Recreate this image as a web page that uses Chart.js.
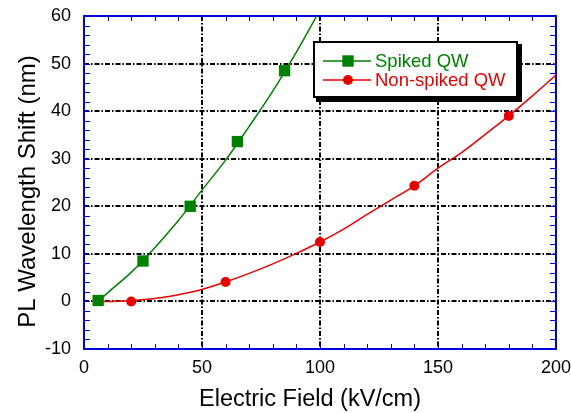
<!DOCTYPE html>
<html>
<head>
<meta charset="utf-8">
<script src="https://cdn.jsdelivr.net/npm/chart.js@4/dist/chart.umd.min.js"></script>
<style>
  html, body { margin: 0; padding: 0; background: #fff; }
  #wrap { width: 571px; height: 413px; }
</style>
</head>
<body>
<div id="wrap"><canvas id="c" width="571" height="413"></canvas></div>
<script>
// Measured PL shifts (markers)
const spikedField = [6, 25, 45, 65, 85];
const spikedShift = [0.2, 8.5, 20.0, 33.6, 48.5];
const nonSpikedField = [20, 60, 100, 140, 180];
const nonSpikedShift = [0.0, 4.1, 12.5, 24.3, 39.0];

// Fitted curves through each series
const spikedFitField = [6, 10, 20, 30, 40, 50, 60, 70, 80, 90, 98.6];
const spikedFitShift = [0, 1.8, 6.1, 11.3, 17.0, 23.4, 29.7, 36.8, 44.2, 52.4, 60];
const nonSpikedFitField = [6, 10, 20, 30, 40, 50, 60, 70, 80, 90, 100, 110, 120, 130, 140, 150, 160, 170, 180, 190, 200];
const nonSpikedFitShift = [0, 0, 0.2, 0.6, 1.4, 2.5, 4.1, 5.9, 7.9, 10.1, 12.5, 15.2, 18.3, 21.3, 24.3, 28.0, 31.3, 35.1, 39.0, 43.2, 47.6];

// Axis ranges, tick steps and titles
const xTicks = [0, 50, 100, 150, 200];
const yTicks = [-10, 0, 10, 20, 30, 40, 50, 60];
const xTitle = 'Electric Field (kV/cm)';
const yTitle = 'PL Wavelength Shift (nm)';

const GREEN = '#008000';
const RED = '#e60000';
const FRAME = '#0000d8';
const FONT = '"Liberation Sans", Arial, sans-serif';

const pts = (xs, ys) => xs.map((x, i) => ({ x, y: ys[i] }));

// Blue frame with inward minor ticks on all four sides
const framePlugin = {
  id: 'frame',
  beforeDatasetsDraw(chart) {
    const { ctx, chartArea: a, scales: { x, y } } = chart;
    ctx.save();
    ctx.strokeStyle = FRAME;
    ctx.lineWidth = 1;
    ctx.beginPath();
    for (let v = xTicks[0]; v <= xTicks[xTicks.length - 1]; v += 10) {
      const px = Math.round(x.getPixelForValue(v)) + 0.5;
      ctx.moveTo(px, a.bottom); ctx.lineTo(px, a.bottom - 5);
      ctx.moveTo(px, a.top); ctx.lineTo(px, a.top + 5);
    }
    for (let v = yTicks[0]; v <= yTicks[yTicks.length - 1]; v += 2) {
      const py = Math.round(y.getPixelForValue(v)) + 0.5;
      ctx.moveTo(a.left, py); ctx.lineTo(a.left + 6, py);
      ctx.moveTo(a.right, py); ctx.lineTo(a.right - 6, py);
    }
    ctx.stroke();
    ctx.lineWidth = 2;
    ctx.strokeRect(a.left, a.top, a.right - a.left, a.bottom - a.top);
    ctx.restore();
  }
};

// Axis titles, placed beside the plot area
const titlePlugin = {
  id: 'axisTitles',
  afterDraw(chart) {
    const { ctx, chartArea: a } = chart;
    ctx.save();
    ctx.fillStyle = '#000';
    ctx.textAlign = 'center';
    ctx.textBaseline = 'alphabetic';
    ctx.font = '23.5px ' + FONT;
    ctx.fillText(xTitle, (a.left + a.right) / 2 - 10, 406);
    ctx.translate(35, (a.top + a.bottom) / 2 + 9);
    ctx.rotate(-Math.PI / 2);
    ctx.font = '24px ' + FONT;
    ctx.fillText(yTitle, 0, 0);
    ctx.restore();
  }
};

// Boxed legend with drop shadow inside the plot
const legendPlugin = {
  id: 'boxLegend',
  afterDraw(chart) {
    const { ctx } = chart;
    const bx = 314, by = 42, bw = 203, bh = 55;
    ctx.save();
    ctx.fillStyle = '#000';
    ctx.fillRect(bx + 2, by + 2, bw + 3, bh + 3);
    ctx.fillStyle = '#fff';
    ctx.fillRect(bx, by, bw, bh);
    ctx.lineWidth = 2;
    ctx.strokeStyle = '#000';
    ctx.strokeRect(bx, by, bw, bh);

    const entries = [chart.data.datasets[1], chart.data.datasets[3]];
    entries.forEach((ds, i) => {
      const ry = 61 + i * 19;
      ctx.strokeStyle = ds.borderColor;
      ctx.lineWidth = 1.5;
      ctx.beginPath();
      ctx.moveTo(323, ry); ctx.lineTo(371, ry);
      ctx.stroke();
      ctx.fillStyle = ds.backgroundColor;
      ctx.beginPath();
      if (ds.pointStyle === 'rect') {
        ctx.rect(348 - 5.7, ry - 5.7, 11.4, 11.4);
      } else {
        ctx.arc(348, ry, 5, 0, Math.PI * 2);
      }
      ctx.fill();
      ctx.font = '18.5px ' + FONT;
      ctx.textBaseline = 'middle';
      ctx.textAlign = 'left';
      ctx.fillStyle = ds.borderColor;
      ctx.fillText(ds.label, 375, ry + 1);
    });
    ctx.restore();
  }
};

const edgeless = (lo, hi) => (c) => (c.tick && (c.tick.value === lo || c.tick.value === hi)) ? 'rgba(0,0,0,0)' : '#000';
const noPad = (s) => { s.paddingTop = 0; s.paddingBottom = 0; s.paddingLeft = 0; s.paddingRight = 0; };

new Chart(document.getElementById('c'), {
  type: 'scatter',
  data: {
    datasets: [
      { label: 'Spiked QW fit', data: pts(spikedFitField, spikedFitShift), showLine: true,
        borderColor: GREEN, borderWidth: 1.5, pointRadius: 0, cubicInterpolationMode: 'monotone', fill: false },
      { label: 'Spiked QW', data: pts(spikedField, spikedShift), showLine: false,
        pointStyle: 'rect', pointRadius: 8, pointHoverRadius: 8,
        backgroundColor: GREEN, borderColor: GREEN, borderWidth: 0 },
      { label: 'Non-spiked QW fit', data: pts(nonSpikedFitField, nonSpikedFitShift), showLine: true,
        borderColor: RED, borderWidth: 1.5, pointRadius: 0, cubicInterpolationMode: 'monotone', fill: false },
      { label: 'Non-spiked QW', data: pts(nonSpikedField, nonSpikedShift), showLine: false,
        pointStyle: 'circle', pointRadius: 5, pointHoverRadius: 5,
        backgroundColor: RED, borderColor: RED, borderWidth: 0 }
    ]
  },
  options: {
    responsive: false,
    animation: false,
    events: [],
    layout: { padding: { top: 16, right: 15, left: 0, bottom: 0 } },
    plugins: { legend: { display: false }, tooltip: { enabled: false } },
    scales: {
      x: {
        type: 'linear', min: xTicks[0], max: xTicks[xTicks.length - 1],
        afterBuildTicks: (s) => { s.ticks = xTicks.map(v => ({ value: v })); },
        afterFit: (s) => { s.height = 64; noPad(s); },
        grid: { color: edgeless(xTicks[0], xTicks[xTicks.length - 1]), lineWidth: 2, drawTicks: false },
        border: { display: false, dash: [5, 2, 1.5, 2] },
        ticks: { color: '#000', padding: 8, maxRotation: 0, font: { family: FONT, size: 18 } },
        title: { display: false }
      },
      y: {
        type: 'linear', min: yTicks[0], max: yTicks[yTicks.length - 1],
        afterBuildTicks: (s) => { s.ticks = yTicks.map(v => ({ value: v })); },
        afterFit: (s) => { s.width = 84; noPad(s); },
        grid: { color: edgeless(yTicks[0], yTicks[yTicks.length - 1]), lineWidth: 2, drawTicks: false },
        border: { display: false, dash: [5, 2, 1.5, 2] },
        ticks: { color: '#000', padding: 13, font: { family: FONT, size: 18 } },
        title: { display: false }
      }
    }
  },
  plugins: [framePlugin, titlePlugin, legendPlugin]
});
</script>
</body>
</html>
